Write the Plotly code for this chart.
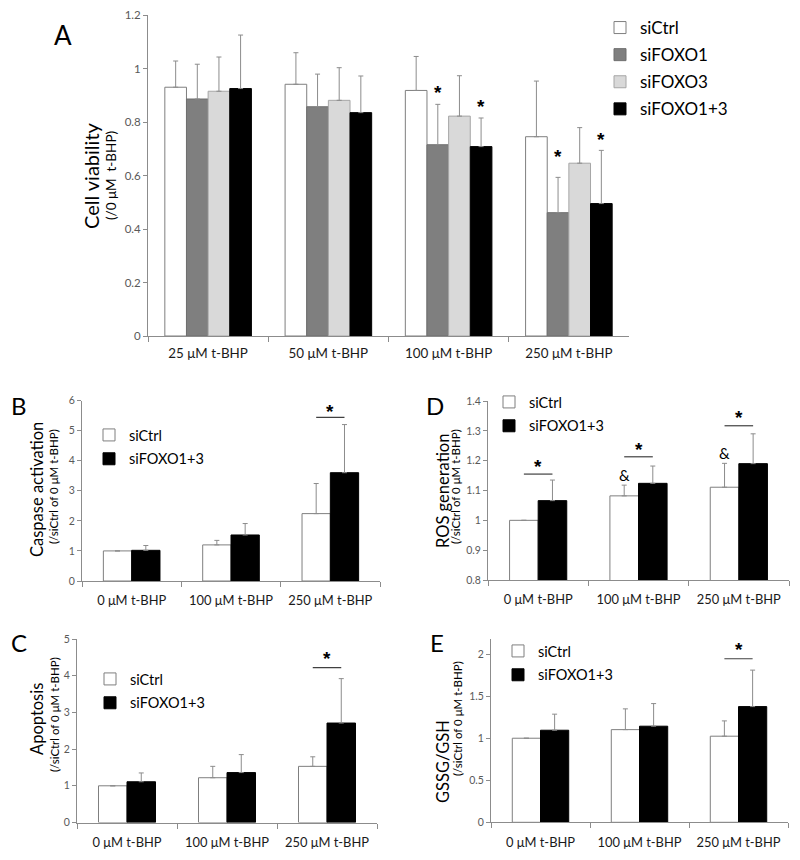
import plotly.graph_objects as go

# The page body has an 8px margin, so the figure is 16px smaller than the window
# and reference pixel positions are mapped with that offset.
OFF = 8
W, H = 800 - 2 * OFF, 860 - 2 * OFF
FONT = "Lato, 'Open Sans', sans-serif"
STARFONT = "'Liberation Sans', Arial, sans-serif"

# ---------------- Panel A : cell viability ----------------
cats_A = ["25 μM t-BHP", "50 μM t-BHP", "100 μM t-BHP", "250 μM t-BHP"]
series_A = ["siCtrl", "siFOXO1", "siFOXO3", "siFOXO1+3"]
viab_siCtrl = [0.930, 0.941, 0.918, 0.745]
viab_siCtrl_err = [0.098, 0.118, 0.127, 0.208]
viab_siFOXO1 = [0.886, 0.857, 0.715, 0.461]
viab_siFOXO1_err = [0.130, 0.122, 0.151, 0.132]
viab_siFOXO3 = [0.915, 0.881, 0.822, 0.646]
viab_siFOXO3_err = [0.128, 0.122, 0.151, 0.133]
viab_siFOXO13 = [0.925, 0.835, 0.708, 0.495]
viab_siFOXO13_err = [0.200, 0.137, 0.107, 0.199]
starsA_cat = [2, 2, 3, 3]
starsA_series = [1, 3, 1, 3]
starsA_y = [0.923, 0.871, 0.684, 0.744]

# ---------------- Panels B-E ----------------
cats_2 = ["0 μM t-BHP", "100 μM t-BHP", "250 μM t-BHP"]
series_2 = ["siCtrl", "siFOXO1+3"]

casp_ctrl = [1.00, 1.20, 2.24]
casp_ctrl_err = [None, 0.15, 1.00]
casp_foxo = [1.02, 1.53, 3.60]
casp_foxo_err = [0.16, 0.38, 1.60]
casp_sig_cat = [2]
casp_sig_line = [5.44]
casp_sig_star = [5.75]

apop_ctrl = [1.00, 1.22, 1.53]
apop_ctrl_err = [None, 0.31, 0.26]
apop_foxo = [1.11, 1.36, 2.71]
apop_foxo_err = [0.24, 0.49, 1.21]
apop_sig_cat = [2]
apop_sig_line = [4.22]
apop_sig_star = [4.54]

ros_ctrl = [1.000, 1.082, 1.111]
ros_ctrl_err = [None, 0.036, 0.080]
ros_foxo = [1.066, 1.124, 1.190]
ros_foxo_err = [0.069, 0.058, 0.100]
ros_sig_cat = [0, 1, 2]
ros_sig_line = [1.155, 1.213, 1.317]
ros_sig_star = [1.192, 1.249, 1.356]
ros_amp_cat = [1, 2]
ros_amp_y = [1.152, 1.226]

gssg_ctrl = [1.000, 1.102, 1.024]
gssg_ctrl_err = [None, 0.247, 0.182]
gssg_foxo = [1.095, 1.143, 1.376]
gssg_foxo_err = [0.191, 0.269, 0.434]
gssg_sig_cat = [2]
gssg_sig_line = [1.945]
gssg_sig_star = [2.09]

FILL = {"siCtrl": "#ffffff", "siFOXO1": "#7f7f7f", "siFOXO3": "#d9d9d9", "siFOXO1+3": "#000000"}
EDGE = {"siCtrl": "#7f7f7f", "siFOXO1": "#6f6f6f", "siFOXO3": "#a6a6a6", "siFOXO1+3": "#000000"}
AXC = "#8c8c8c"


def px(X):
    return (X - OFF) / W


def py(Y):
    return 1 - (Y - OFF) / H


def xd(l, r):
    return [px(l), px(r)]


def yd(top, bottom):
    return [py(bottom), py(top)]


fig = go.Figure()

panels = {
    "A": dict(ax="", x=(148, 629), y=(15, 336), rng=[0, 1.2], dt=0.2, n=4),
    "B": dict(ax="2", x=(82, 380), y=(400.5, 581), rng=[0, 6], dt=1, n=3),
    "D": dict(ax="3", x=(488, 789), y=(401, 580), rng=[0.8, 1.4], dt=0.1, n=3),
    "C": dict(ax="4", x=(77, 377), y=(639, 822.5), rng=[0, 5], dt=1, n=3),
    "E": dict(ax="5", x=(491, 788), y=(639, 822.3), rng=[0, 2.18], dt=0.5, n=3),
}

layout = {}
for key, p in panels.items():
    s = p["ax"]
    layout["xaxis" + s] = dict(
        domain=xd(*p["x"]), anchor="y" + s, type="category", range=[-0.5, p["n"] - 0.5],
        showline=True, linecolor=AXC, linewidth=1, ticks="outside", tickson="boundaries",
        ticklen=5, tickcolor=AXC, showgrid=False, zeroline=False, tickangle=0,
        ticklabelstandoff=5 if key == "A" else 8,
        tickfont=dict(family=FONT, size=13.4 if key == "A" else 12.9, color="#1a1a1a"),
        fixedrange=True,
    )
    layout["yaxis" + s] = dict(
        domain=yd(*p["y"]), anchor="x" + s, range=p["rng"], dtick=p["dt"], tick0=0,
        showline=True, linecolor=AXC, linewidth=1, ticks="outside", ticklen=4, tickcolor=AXC,
        showgrid=False, zeroline=False,
        tickfont=dict(family=FONT, size=11.5 if key == "A" else 10.5, color="#595959"),
        fixedrange=True,
    )

# ---- Panel A bars ----
A_vals = [viab_siCtrl, viab_siFOXO1, viab_siFOXO3, viab_siFOXO13]
A_errs = [viab_siCtrl_err, viab_siFOXO1_err, viab_siFOXO3_err, viab_siFOXO13_err]
wA = 0.18
for i, name in enumerate(series_A):
    fig.add_trace(go.Bar(
        x=cats_A, y=A_vals[i], name=name, xaxis="x", yaxis="y",
        width=wA, offset=-2 * wA + i * wA,
        marker=dict(color=FILL[name], line=dict(color=EDGE[name], width=1)),
        error_y=dict(type="data", array=A_errs[i], arrayminus=[0] * len(A_errs[i]),
                     symmetric=False, color="#8c8c8c", thickness=1, width=2.5),
        legend="legend", legendgroup=name,
    ))

annotations = []


def star(x, y, xref, yref):
    return dict(x=x, y=y, xref=xref, yref=yref, text="<b>*</b>", showarrow=False,
                yanchor="middle", yshift=-3,
                font=dict(family=STARFONT, size=19, color="#000000"))


for c, si, yv in zip(starsA_cat, starsA_series, starsA_y):
    annotations.append(star(c - 2 * wA + (si + 0.5) * wA, yv, "x", "y"))

# ---- Panels B-E bars ----
w2 = 0.285
small = [
    ("B", casp_ctrl, casp_ctrl_err, casp_foxo, casp_foxo_err, casp_sig_cat, casp_sig_line, casp_sig_star),
    ("D", ros_ctrl, ros_ctrl_err, ros_foxo, ros_foxo_err, ros_sig_cat, ros_sig_line, ros_sig_star),
    ("C", apop_ctrl, apop_ctrl_err, apop_foxo, apop_foxo_err, apop_sig_cat, apop_sig_line, apop_sig_star),
    ("E", gssg_ctrl, gssg_ctrl_err, gssg_foxo, gssg_foxo_err, gssg_sig_cat, gssg_sig_line, gssg_sig_star),
]
legend_ids = {"B": "legend2", "D": "legend3", "C": "legend4", "E": "legend5"}
shapes = []
for key, cv, ce, fv, fe, sc, sl, ss in small:
    s = panels[key]["ax"]
    for i, (name, vals, errs) in enumerate([("siCtrl", cv, ce), ("siFOXO1+3", fv, fe)]):
        fig.add_trace(go.Bar(
            x=cats_2, y=vals, name=name, xaxis="x" + s, yaxis="y" + s,
            width=w2, offset=-w2 + i * w2,
            marker=dict(color=FILL[name], line=dict(color=EDGE[name], width=1)),
            error_y=dict(type="data", array=errs, arrayminus=[0 if e is not None else None for e in errs],
                         symmetric=False, color="#8c8c8c", thickness=1, width=2.5),
            legend=legend_ids[key], legendgroup=key + name,
        ))
    for c, ly, sy in zip(sc, sl, ss):
        shapes.append(dict(type="line", xref="x" + s, yref="y" + s,
                           x0=c - w2 / 2, x1=c + w2 / 2, y0=ly, y1=ly,
                           line=dict(color="#404040", width=1.2)))
        annotations.append(star(c, sy, "x" + s, "y" + s))

for c, yv in zip(ros_amp_cat, ros_amp_y):
    annotations.append(dict(x=c - w2 / 2, y=yv, xref="x3", yref="y3", text="&",
                            showarrow=False, yanchor="middle",
                            font=dict(family=FONT, size=15, color="#000")))


def vtext(x, y, text, size):
    return dict(x=px(x), y=py(y), xref="paper", yref="paper", text=text, textangle=-90,
                showarrow=False, xanchor="center", yanchor="middle",
                font=dict(family=FONT, size=size, color="#000"))


annotations += [
    vtext(91, 176, "Cell viability", 20),
    vtext(111, 176, "(/0 μM  t-BHP)", 13.5),
    vtext(37, 490, "Caspase activation", 16.5),
    vtext(54, 487, "(/siCtrl of 0 μM t-BHP)", 11.5),
    vtext(37, 719, "Apoptosis", 16.5),
    vtext(54, 715, "(/siCtrl of 0 μM t-BHP)", 11.5),
    vtext(443, 491, "ROS generation", 16.5),
    vtext(456, 487, "(/siCtrl of 0 μM t-BHP)", 11.5),
    vtext(443, 762, "GSSG/GSH", 16.5),
    vtext(457, 719, "(/siCtrl of 0 μM t-BHP)", 11.5),
]
for letter, lx, ly, sz in [("A", 63, 35, 26), ("B", 19, 405, 24), ("C", 19, 642, 24),
                           ("D", 435, 405, 24), ("E", 437, 642, 24)]:
    annotations.append(dict(x=px(lx), y=py(ly), xref="paper", yref="paper", text=letter,
                            showarrow=False, xanchor="center", yanchor="middle",
                            font=dict(family=FONT, size=sz, color="#000")))


def leg(left, top, size, gap):
    return dict(x=px(left), y=py(top), xanchor="left", yanchor="top",
                bgcolor="rgba(0,0,0,0)", borderwidth=0, tracegroupgap=gap,
                font=dict(family=FONT, size=size, color="#000"), itemclick=False)


fig.update_layout(
    width=W, height=H, margin=dict(l=0, r=0, t=0, b=0, autoexpand=False),
    paper_bgcolor="#ffffff", plot_bgcolor="#ffffff",
    barmode="overlay", showlegend=True,
    annotations=annotations, shapes=shapes,
    legend=leg(600, 10, 17, 2),
    legend2=leg(89, 419, 14.5, 2),
    legend3=leg(489, 386, 14.5, 2),
    legend4=leg(90, 663, 14.5, 2),
    legend5=leg(498, 635, 14.5, 2),
    **layout,
)

fig.write_html("out.html")
